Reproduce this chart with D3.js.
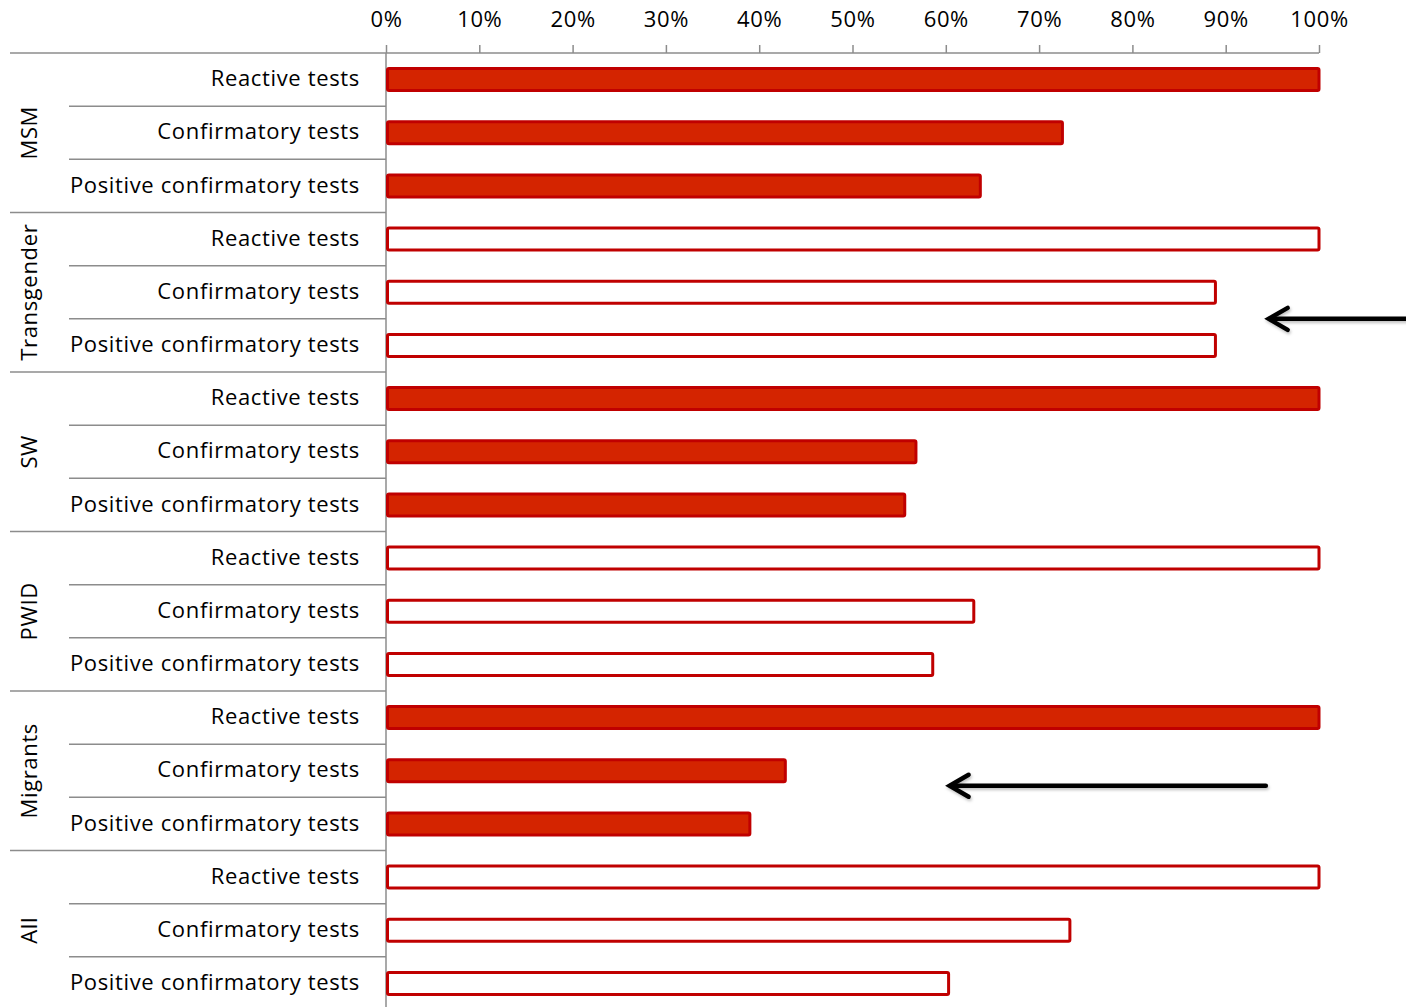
<!DOCTYPE html>
<html>
<head>
<meta charset="utf-8">
<script src="https://cdn.jsdelivr.net/npm/d3@7"></script>
<style>
  body { margin: 0; background: #fff; }
  svg text { font-family: "Open Sans", Lato, sans-serif; fill: #000; letter-spacing: 0.65px; }
</style>
</head>
<body>
<svg id="chart" width="1406" height="1007"></svg>
<script>
// data
const groups = ['MSM', 'Transgender', 'SW', 'PWID', 'Migrants', 'All'];
const measures = ['Reactive tests', 'Confirmatory tests', 'Positive confirmatory tests'];
const filled = [true, false, true, false, true, false];
const msm = [100, 72.5, 63.7];
const transgender = [100, 88.9, 88.9];
const sw = [100, 56.8, 55.6];
const pwid = [100, 63.0, 58.6];
const migrants = [100, 42.8, 39.0];
const all = [100, 73.3, 60.3];
const seriesValues = [msm, transgender, sw, pwid, migrants, all];
const xTicks = [0, 10, 20, 30, 40, 50, 60, 70, 80, 90, 100];

const rows = [];
groups.forEach((g, gi) => {
  measures.forEach((m, mi) => {
    rows.push({ key: g + '|' + m, group: g, measure: m, value: seriesValues[gi][mi], filled: filled[gi] });
  });
});

const svg = d3.select('#chart');
const mLeft = 386, mRight = 1319, mTop = 53, mBottom = 1010;
const red = '#c00000', redFill = '#d42400', axisGrey = '#8c8c8c';
const fontSize = 22;

const x = d3.scaleLinear().domain([0, 100]).range([mLeft, mRight]);
const y = d3.scaleBand().domain(rows.map(d => d.key)).range([mTop, mBottom]).padding(0);
const bw = y.bandwidth();
const barH = 22;

// top axis
const xAxis = d3.axisTop(x).tickValues(xTicks).tickFormat(d => d + '%').tickSize(8).tickPadding(18);
const gx = svg.append('g').attr('transform', `translate(0,${mTop})`).call(xAxis);
gx.select('.domain').remove();
gx.selectAll('.tick line').attr('stroke', axisGrey).attr('stroke-width', 1.5);
gx.selectAll('.tick text').attr('font-size', fontSize).attr('font-family', '"Open Sans", Lato, sans-serif').attr('fill', '#000');

svg.append('line')
  .attr('x1', 10).attr('x2', mRight).attr('y1', mTop).attr('y2', mTop)
  .attr('stroke', axisGrey).attr('stroke-width', 1.5);

// vertical axis line
svg.append('line')
  .attr('x1', mLeft).attr('x2', mLeft).attr('y1', mTop).attr('y2', mBottom)
  .attr('stroke', axisGrey).attr('stroke-width', 1.5);

// separators
svg.append('g').selectAll('line')
  .data(rows.slice(1))
  .join('line')
    .attr('x1', (d, i) => (i + 1) % 3 === 0 ? 10 : 69)
    .attr('x2', mLeft)
    .attr('y1', d => y(d.key))
    .attr('y2', d => y(d.key))
    .attr('stroke', axisGrey)
    .attr('stroke-width', 1.5);

// category labels
svg.append('g').selectAll('text')
  .data(rows)
  .join('text')
    .attr('x', 360)
    .attr('y', d => y(d.key) + bw / 2)
    .attr('dy', '0.3em')
    .attr('text-anchor', 'end')
    .attr('font-size', fontSize)
    .text(d => d.measure);

// group labels (rotated)
svg.append('g').selectAll('text')
  .data(groups)
  .join('text')
    .attr('transform', g => {
      const cy = y(g + '|' + measures[1]) + bw / 2;
      return `translate(29 ${cy}) rotate(-90)`;
    })
    .attr('dy', '0.35em')
    .attr('text-anchor', 'middle')
    .attr('font-size', fontSize)
    .text(g => g);

// bars
svg.append('g').selectAll('rect')
  .data(rows)
  .join('rect')
    .attr('x', x(0) + 1.5)
    .attr('y', d => y(d.key) + bw / 2 - barH / 2)
    .attr('width', d => x(d.value) - x(0) - 1.5)
    .attr('height', barH)
    .attr('rx', 1.5)
    .attr('fill', d => d.filled ? redFill : '#fff')
    .attr('stroke', red)
    .attr('stroke-width', 3);

// arrows
const defs = svg.append('defs');
const f = defs.append('filter').attr('id', 'shadow').attr('x', '-5%').attr('y', '-50%').attr('width', '110%').attr('height', '200%');
f.append('feDropShadow').attr('dx', 1).attr('dy', 2).attr('stdDeviation', 1.5).attr('flood-color', '#000').attr('flood-opacity', 0.25);

function arrow(x1, x2, yy) {
  const g = svg.append('g').attr('filter', 'url(#shadow)')
    .attr('stroke', '#000').attr('stroke-width', 4.5).attr('fill', 'none')
    .attr('stroke-linecap', 'round').attr('stroke-linejoin', 'miter');
  g.append('line').attr('x1', x1).attr('x2', x2 + 2).attr('y1', yy).attr('y2', yy);
  g.append('path').attr('d', `M${x2 + 20},${yy - 11} L${x2 + 1},${yy} L${x2 + 20},${yy + 11}`);
}
const bTrans = y('Transgender|' + measures[2]);
arrow(1410, x(94.5), bTrans);
const mig = y('Migrants|' + measures[1]) + bw / 2 + 15;
arrow(x(94.3), x(60.3), mig);
</script>
</body>
</html>
